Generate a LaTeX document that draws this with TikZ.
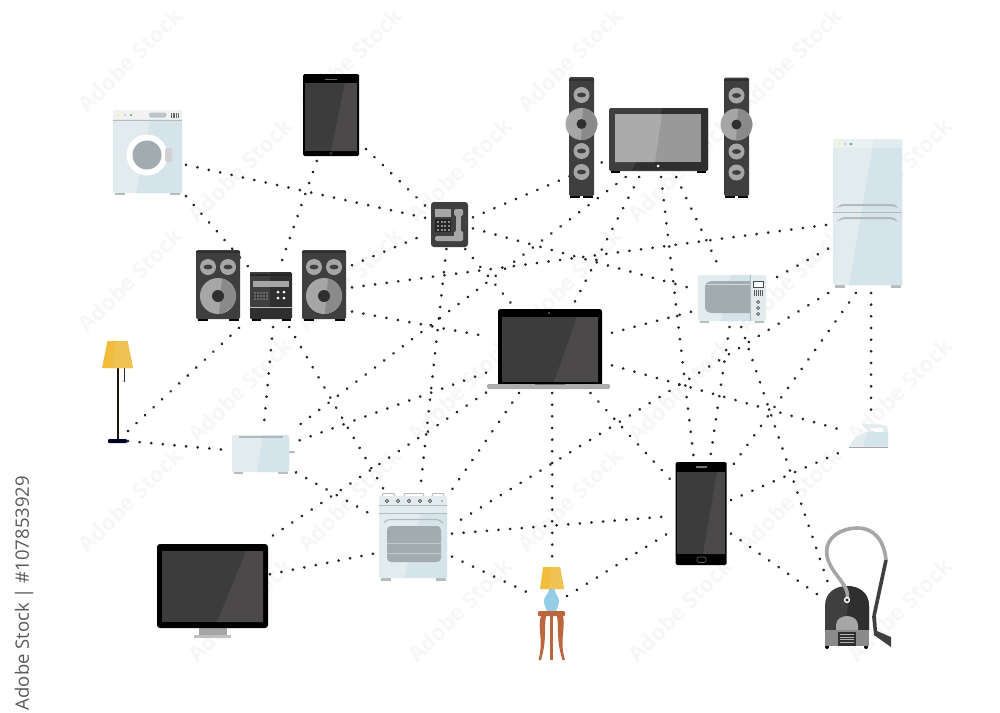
\documentclass[tikz,border=0pt]{standalone}
\usepackage{fontspec}
\setmainfont{Open Sans}
\usetikzlibrary{arrows.meta,positioning,calc}
\definecolor{screen}{HTML}{3C3C3C}
\definecolor{glare}{HTML}{4B4949}
\definecolor{shell}{HTML}{3F3F3F}
\definecolor{shellb}{HTML}{2F2F2F}
\definecolor{cone}{HTML}{A6A6A6}
\definecolor{coneb}{HTML}{8A8A8A}
\definecolor{pale}{HTML}{E2ECEF}
\definecolor{paleb}{HTML}{D5E4EA}
\definecolor{foot}{HTML}{B3B9BC}
\definecolor{pane}{HTML}{A2ACB0}
\definecolor{lampA}{HTML}{F2BC3C}
\definecolor{lampB}{HTML}{EFC254}
\definecolor{wood}{HTML}{BC6640}
\definecolor{vase}{HTML}{93CDE6}

\begin{document}
\begin{tikzpicture}[x=1pt, y=-1pt, font=\small,
    box/.style={inner sep=0pt, outer sep=0pt},
    link/.style={black!85, line width=3pt, line cap=round, dash pattern=on 0.01pt off 11.65pt},
    stamp/.style={rotate=45, text=black!3, font=\bfseries\fontsize{22}{24}\selectfont, inner sep=0pt}]
  \useasboundingbox (0,0) rectangle (1000,712);
  \fill[white] (0,0) rectangle (1000,712);

  %% ── Faint tiled stock marks ─────────────────
  \foreach \x/\y [count=\i] in {130/60,350/60,570/60,790/60,
      240/170,460/170,680/170,900/170,
      130/280,350/280,570/280,790/280,
      240/390,460/390,680/390,900/390,
      130/500,350/500,570/500,790/500,
      240/610,460/610,680/610,900/610}{
    \node[stamp] (stamp\i) at (\x,\y) {Adobe Stock};
  }
  \node[box, rotate=90, anchor=east, text=black!65, font=\fontsize{18.5}{21}\selectfont] (stockid) at (24,476) {Adobe Stock | \#107853929};

  %% ── Device places (borders take the dotted links) ─────────────────
  \node[box, minimum width=76pt,  minimum height=93pt]  (washer)     at (148,152.5) {};
  \node[box, minimum width=67pt,  minimum height=91pt]  (tablet)     at (332.5,115.5) {};
  \node[box, minimum width=46pt,  minimum height=51pt]  (landline)   at (450,223.5) {};
  \node[box, minimum width=44pt,  minimum height=71pt]  (speakerL)   at (218,285.5) {};
  \node[box, minimum width=51pt,  minimum height=59pt]  (stereo)     at (271.5,297.5) {};
  \node[box, minimum width=54pt,  minimum height=79pt]  (speakerR)   at (325,285.5) {};
  \node[box, minimum width=32pt,  minimum height=120pt] (towerL)     at (581,137) {};
  \node[box, minimum width=107pt, minimum height=73pt] (tv)         at (658.5,140.5) {};
  \node[box, minimum width=32pt,  minimum height=120pt] (towerR)     at (736,137.5) {};
  \node[box, minimum width=78pt,  minimum height=159pt] (fridge)     at (867,213.5) {};
  \node[box, minimum width=80pt,  minimum height=57pt]  (microwave)  at (732,298.5) {};
  \node[box, minimum width=126pt, minimum height=89pt]  (laptop)     at (549,348.5) {};
  \node[box, minimum width=30pt,  minimum height=106pt] (floorlamp)  at (113,392) {};
  \node[box, minimum width=70pt,  minimum height=46pt]  (toaster)    at (261,453) {};
  \node[box, minimum width=77pt,  minimum height=96pt]  (stove)      at (413.5,537) {};
  \node[box, minimum width=117pt, minimum height=102pt] (monitor)    at (211.5,591) {};
  \node[box, minimum width=61pt,  minimum height=112pt] (smartphone) at (700.5,513) {};
  \node[box, minimum width=45pt,  minimum height=34pt]  (iron)       at (869.5,433) {};
  \node[box, minimum width=33pt,  minimum height=99pt]  (tablelamp)  at (550.5,612.5) {};
  \node[box, minimum width=74pt,  minimum height=64pt]  (vacuum)     at (855,618) {};

  %% ── Dotted links ─────────────────
  \foreach \a/\b in {washer.-18.2/landline.167, washer.-49.5/stereo.127.3,
      tablet.-109.9/stereo.75, tablet.-45.8/landline.145.9,
      speakerR.37.6/landline.-156.5, speakerR.-4.4/fridge.-164.9, speakerR.-44.8/laptop.169.9,
      landline.15.3/tv.-159, landline.-12.7/microwave.166.8,
      landline.-98.9/stove.82.9, landline.-59.5/laptop.130,
      tv.-132.5/toaster.36.9, tv.-118.1/laptop.61.7, tv.-86.9/smartphone.97, tv.-64.9/microwave.112.1,
      fridge.-138.5/microwave.25.8, fridge.-116.1/stove.17.9, fridge.-98.8/smartphone.56.1, fridge.-87.1/iron.85,
      microwave.-95.2/smartphone.80.7, microwave.-72.5/vacuum.129.5,
      laptop.14.3/microwave.-162.6, laptop.-15.5/iron.176.2, laptop.-47.6/smartphone.132.7,
      laptop.-86.1/tablelamp.88.3, laptop.-124.6/stove.51.3, laptop.-159.5/toaster.18.5, laptop.-145.6/monitor.43.9,
      floorlamp.-69/stereo.-137.3, floorlamp.-73.2/toaster.175.6,
      stereo.-87.1/toaster.84.3, stereo.-59.8/stove.122.7,
      toaster.-29.2/stove.152.2, monitor.16.2/stove.-157.9,
      stove.5.3/smartphone.-174, stove.-27.5/tablelamp.134.1,
      tablelamp.45/smartphone.-148.1, smartphone.23.2/iron.-144.9, smartphone.-34.5/vacuum.148.1}{
    \draw[link] (\a) -- (\b);
  }

  %% ── Washer ─────────────────
  \fill[foot] (115,192) rectangle (125,195);
  \fill[foot] (170,192) rectangle (180,195);
  \fill[pale] (113,110) rectangle (182,193);
  \fill[paleb] (150,120) -- (182,120) -- (182,193) -- (136,193) -- cycle;
  \fill[black!5] (113,110) rectangle (182,119);
  \fill[pane!80] (113,119.5) rectangle (182,120.5);
  \fill[yellow!70!white] (119,115) circle[radius=1.2];
  \fill[pane!60] (125,115) circle[radius=1.2];
  \fill[green!40!gray] (131,115) circle[radius=1.2];
  \fill[pane!70, rounded corners=2pt] (149,112.5) rectangle (166.5,117.5);
  \foreach \x in {171,172.7,174.4,176.1,177.8}{
    \fill[black!60] (\x,113) rectangle +(0.9,5);
  }
  \fill[white] (147,155) circle[radius=20.5];
  \fill[pane] (147,155) circle[radius=14.5];
  \fill[black!18, rounded corners=2pt] (165,148) rectangle (172,162);

  %% ── Tablet ─────────────────
  \fill[black, rounded corners=1.5pt] (303,74) rectangle (359,156);
  \fill[screen] (305,83) rectangle (357,151);
  \fill[glare] (345,83) -- (357,83) -- (357,151) -- (331,151) -- cycle;
  \fill[black!60] (325,78.5) rectangle (337,80);
  \draw[black!65, line width=0.4pt] (331,153.5) circle[radius=1.4];

  %% ── Wall phone ─────────────────
  \fill[shell, rounded corners=3pt] (431,202) rectangle (468,247);
  \fill[cone] (435,209) rectangle (451,217);
  \fill[black!85] (435,219) rectangle (451,232);
  \foreach \x in {437,440.5,444,447.5}{
    \foreach \y in {221,225,229}{
      \fill[black!45] (\x,\y) rectangle +(2,2);
    }
  }
  \fill[cone, rounded corners=1.5pt] (454,209) rectangle (463,216);
  \fill[cone] (456,214) rectangle (461,234);
  \fill[cone, rounded corners=1.5pt] (435,236) rectangle (463,241);
  \fill[cone, rounded corners=1.5pt] (454,231) rectangle (463,241);

  %% ── Bookshelf speakers ─────────────────
  \foreach \x in {196,302}{
    \fill[black] (\x+2,318) rectangle +(9.5,3);
    \fill[black] (\x+33,318) rectangle +(9.5,3);
    \fill[shell, rounded corners=1.5pt] (\x,250) rectangle (\x+44,319);
    \fill[shellb] (\x,250.5) rectangle (\x+44,253);
    \foreach \c in {12,32}{
      \fill[cone] (\x+\c,267) circle[radius=8];
      \fill[shell] (\x+\c,267) ellipse[x radius=4.5, y radius=2.4];
    }
    \fill[cone] (\x+22,296) circle[radius=18];
    \fill[coneb] (\x+26,278.4) -- (\x+31,280.4) -- (\x+38,288) -- (\x+40,296) -- (\x+37,306) -- (\x+28,313) -- (\x+23,314) -- cycle;
    \fill[shellb] (\x+22,296) circle[radius=6];
  }

  %% ── Stereo ─────────────────
  \fill[black] (252,318) rectangle (261,321);
  \fill[black] (282,318) rectangle (291,321);
  \fill[shellb, rounded corners=1.5pt] (250,272) rectangle (292,319);
  \fill[shell] (250,272) rectangle (270,307);
  \fill[black!85] (250,274) rectangle (292,276);
  \fill[cone] (253,281) rectangle (289,287);
  \foreach \x in {254,257,260,263,266}{
    \foreach \y in {292,295,298}{
      \fill[black!60] (\x,\y) rectangle +(1.8,1.8);
    }
  }
  \foreach \x/\y in {278/292,284/292,278/298,284/298}{
    \fill[white] (\x,\y) circle[radius=1.5];
  }
  \fill[black!25] (250,306.5) rectangle (292,307.5);

  %% ── Column speakers ─────────────────
  \foreach \x/\t in {569/0,724/0.5}{
    \fill[black] (\x+1,195) rectangle +(10,3);
    \fill[black] (\x+14,195) rectangle +(10,3);
    \fill[shell, rounded corners=1.5pt] (\x,77+\t) rectangle (\x+25,196);
    \fill[shellb] (\x,79) rectangle (\x+25,81);
    \foreach \y in {95,151,172}{
      \fill[cone] (\x+12.5,\y+\t) circle[radius=8];
      \fill[shell] (\x+12.5,\y+\t) ellipse[x radius=4.5, y radius=2.4];
    }
    \fill[cone] (\x+12.5,124+\t) circle[radius=16];
    \fill[coneb] (\x+14,108+\t) -- (\x+21,110.5+\t) -- (\x+27,118+\t) -- (\x+28.5,124+\t) -- (\x+26,133+\t) -- (\x+18,139+\t) -- (\x+12,140+\t) -- cycle;
    \fill[shellb] (\x+12.5,124+\t) circle[radius=5];
  }

  %% ── Television ─────────────────
  \fill[black] (611,170) rectangle (620,173);
  \fill[black] (697,170) rectangle (706,173);
  \fill[shell, rounded corners=1.5pt] (609,108) rectangle (708,171);
  \fill[shellb] (663,108) -- (707,108) -- (708,109) -- (708,170) -- (632,170) -- cycle;
  \fill[black!40] (615,114) rectangle (701,162);
  \fill[black!33] (615,114) -- (662,114) -- (655,162) -- (615,162) -- cycle;
  \fill[white] (658,166) circle[radius=1.5];

  %% ── Fridge ─────────────────
  \fill[foot] (835,284) rectangle (845,288);
  \fill[foot] (891,284) rectangle (901,288);
  \fill[pale, rounded corners=1pt] (833,139) rectangle (902,285);
  \fill[paleb] (874,139) -- (901,139) -- (902,140) -- (902,285) -- (849,285) -- cycle;
  \fill[white, opacity=0.3] (833,139) rectangle (902,148);
  \fill[yellow!70!white] (839,144) circle[radius=1.3];
  \fill[pane!60] (845,144) circle[radius=1.3];
  \fill[green!30!gray] (851,144) circle[radius=1.3];
  \fill[foot] (833,211.5) rectangle (902,213);
  \fill[foot] (837,208) .. controls (840,204) and (842,204) .. (845,204) -- (890,204) .. controls (893,204) and (895,204) .. (898,208) .. controls (893,206) and (890,206) .. (888,206) -- (847,206) .. controls (844,206) and (841,206) .. (837,208) -- cycle;
  \fill[foot] (837,222) .. controls (840,218) and (842,217) .. (845,217) -- (890,217) .. controls (893,217) and (895,218) .. (898,222) .. controls (893,219) and (890,219) .. (888,219) -- (847,219) .. controls (844,219) and (841,219) .. (837,222) -- cycle;

  %% ── Microwave ─────────────────
  \fill[foot] (700,320) rectangle (709,323);
  \fill[foot] (755,320) rectangle (764,323);
  \fill[pale, rounded corners=1pt] (698,275) rectangle (766,321);
  \fill[paleb] (731,275) -- (750,275) -- (750,321) -- (721,321) -- cycle;
  \fill[pane] (750,281) -- (713,281) .. controls (707,281) and (705,284) .. (705,288) -- (705,306) .. controls (705,311) and (707,313) .. (713,313) -- (750,313) -- cycle;
  \fill[black!15] (707,283.5) rectangle (750,284.5);
  \fill[foot] (750,275) rectangle (751,321);
  \draw[black!70, line width=0.7pt, fill=white] (753.5,281) rectangle (763,287);
  \foreach \x in {754,756,758,760,762}{
    \fill[black!65] (\x,290) rectangle +(1,5.5);
  }
  \foreach \y in {302,308,314}{
    \draw[black!70, line width=0.7pt, fill=white] (758,\y) circle[radius=1.5];
  }

  %% ── Laptop ─────────────────
  \fill[black, rounded corners=2.5pt] (498,309) rectangle (602,386);
  \fill[screen] (502,317) rectangle (598,382);
  \fill[glare] (577,317) -- (598,317) -- (598,382) -- (554,382) -- cycle;
  \fill[black!55] (549,313) circle[radius=1];
  \fill[black!32, rounded corners=1.5pt] (487,384) rectangle (610,389);
  \fill[black!55] (535,384) rectangle (565,385);

  %% ── Floor lamp ─────────────────
  \fill[black!85!brown] (117,368) rectangle (118.6,440);
  \fill[black!70!brown] (123.8,368) rectangle (124.8,380);
  \fill[black!75] (124.3,381) circle[radius=1];
  \fill[black!85!blue, rounded corners=1pt] (108,439) rectangle (127,443);
  \fill[lampA] (107.5,341) -- (127.5,341) -- (133,368) -- (102,368) -- cycle;
  \fill[lampB] (116,341) -- (127.5,341) -- (133,368) -- (112,368) -- cycle;

  %% ── Toaster ─────────────────
  \fill[foot] (234,471) rectangle (243,474);
  \fill[foot] (278,471) rectangle (288,474);
  \fill[foot, rounded corners=1pt] (286,451) rectangle (295,453);
  \fill[pale, rounded corners=2pt] (232,435) rectangle (289,472);
  \fill[paleb] (263,435) -- (287,435) -- (289,437) -- (289,470) -- (287,472) -- (257,472) -- cycle;
  \fill[foot] (239,436) rectangle (283,438);

  %% ── Oven ─────────────────
  \fill[foot] (381,577) rectangle (391,581);
  \fill[foot] (436,577) rectangle (446,581);
  \draw[foot, line width=0.9pt] (382,496) -- (383,493.5) -- (394,493.5) -- (395,496);
  \draw[foot, line width=0.9pt] (404,496) -- (405,493.5) -- (423,493.5) -- (424,496);
  \draw[foot, line width=0.9pt] (432,496) -- (433,493.5) -- (443,493.5) -- (444,496);
  \fill[pale, rounded corners=1pt] (379,496) rectangle (447,578);
  \fill[paleb] (421,513) -- (447,513) -- (447,578) -- (404,578) -- cycle;
  \foreach \x in {387,398,409,420,430}{
    \draw[black!75, line width=0.8pt, fill=white] (\x,501) circle[radius=1.6];
  }
  \fill[black!30] (442,501) circle[radius=1.4];
  \fill[foot] (379,505) rectangle (447,506);
  \fill[foot] (379,513) rectangle (447,514);
  \draw[foot, line width=1.1pt] (384,523) .. controls (386,520) and (388,519.5) .. (392,519.5) -- (434,519.5) .. controls (438,519.5) and (440,520) .. (443,523);
  \fill[pane, rounded corners=4pt] (387,526) rectangle (441,562);
  \fill[black!22] (387,542.5) rectangle (441,543.5);
  \fill[black!22] (387,552.5) rectangle (441,553.5);

  %% ── Desktop monitor ─────────────────
  \fill[black!35] (199,628) rectangle (227,635);
  \fill[black!25] (194,635) rectangle (231,637.5);
  \fill[black, rounded corners=3pt] (157,544) rectangle (268,628);
  \fill[screen] (162,551) rectangle (263,622);
  \fill[glare] (246,551) -- (263,551) -- (263,622) -- (217,622) -- cycle;

  %% ── Smartphone ─────────────────
  \fill[black, rounded corners=1.5pt] (675.5,462) rectangle (726.5,565);
  \fill[screen] (677,472) rectangle (725,554);
  \fill[glare] (717,472) -- (725,472) -- (725,554) -- (703,554) -- cycle;
  \fill[black!55, rounded corners=0.5pt] (696,466) rectangle (707,468);
  \draw[black!60, line width=0.6pt, rounded corners=2pt] (697,557) rectangle (706,562.5);

  %% ── Iron ─────────────────
  \fill[pale] (849,446.5) .. controls (853,438) and (860,434) .. (869,431) -- (862,425) .. controls (862,423.5) and (864,423.5) .. (866,424) -- (880,424.5) .. controls (885,424.5) and (889,427) .. (888,432) -- (888,446.5) -- cycle;
  \fill[white] (869,428.5) -- (881,427.5) .. controls (884,428) and (884,431) .. (881,433) -- (875,432) -- cycle;
  \fill[paleb] (868,432) -- (888,432) -- (888,446.5) -- (863,446.5) -- cycle;
  \fill[black!35] (849,446.5) rectangle (888,447.8);

  %% ── Table lamp ─────────────────
  \fill[wood] (550,616) rectangle (553,660);
  \fill[wood] (541,616) .. controls (537,628) and (544,640) .. (538.5,660) -- (541,660) .. controls (547,640) and (544,628) .. (546,616) -- cycle;
  \fill[wood] (563,616) .. controls (566,628) and (559,640) .. (565,660) -- (562.5,660) .. controls (556,640) and (559,628) .. (557,616) -- cycle;
  \fill[vase] (549,589) -- (554.5,589) .. controls (555,595) and (559,596) .. (559,601) .. controls (559,605) and (557,608) .. (556,611) -- (547,611) .. controls (546,608) and (544,605) .. (544,601) .. controls (544,596) and (548.5,595) .. (549,589) -- cycle;
  \fill[wood, rounded corners=1pt] (538,611) rectangle (565,616);
  \fill[lampA] (543,567) -- (560,567) -- (564,589) -- (540,589) -- cycle;
  \fill[lampB] (551,567) -- (560,567) -- (564,589) -- (549,589) -- cycle;

  %% ── Vacuum cleaner ─────────────────
  \fill[black] (827,647) circle[radius=2];
  \fill[black] (866,647) circle[radius=2];
  \draw[shell, line width=3.6pt] (886,560) -- (874,616);
  \fill[shell] (872,616) -- (876,616) -- (877,631) -- (891,637) -- (891,647) -- (874,635) -- cycle;
  \fill[shell] (825,630) -- (825,606) .. controls (825,592) and (836,586) .. (847,586) .. controls (858,586) and (869,592) .. (869,606) -- (869,630) -- cycle;
  \fill[shellb] (847,586) .. controls (858,586) and (869,592) .. (869,606) -- (869,630) -- (845,630) -- (848,606) -- cycle;
  \fill[coneb] (825,630) rectangle (869,645.5);
  \fill[cone] (836,630) -- (836,625) .. controls (836,619) and (842,616) .. (847,616) .. controls (852,616) and (858,619) .. (858,625) -- (858,630) -- cycle;
  \fill[shellb] (838,631.5) rectangle (856,645.5);
  \foreach \y in {634,636.5,639,641.5}{
    \fill[black!30] (840,\y) rectangle (854,\y+1);
  }
  \draw[cone, line width=3.6pt] (847,599) .. controls (851,584) and (827,572) .. (826.7,552) .. controls (826,537) and (842,528) .. (857,528) .. controls (874,528) and (884,540) .. (886,560);
  \draw[white, line width=1.4pt, fill=shellb] (847,600) circle[radius=2.4];
\end{tikzpicture}
\end{document}
